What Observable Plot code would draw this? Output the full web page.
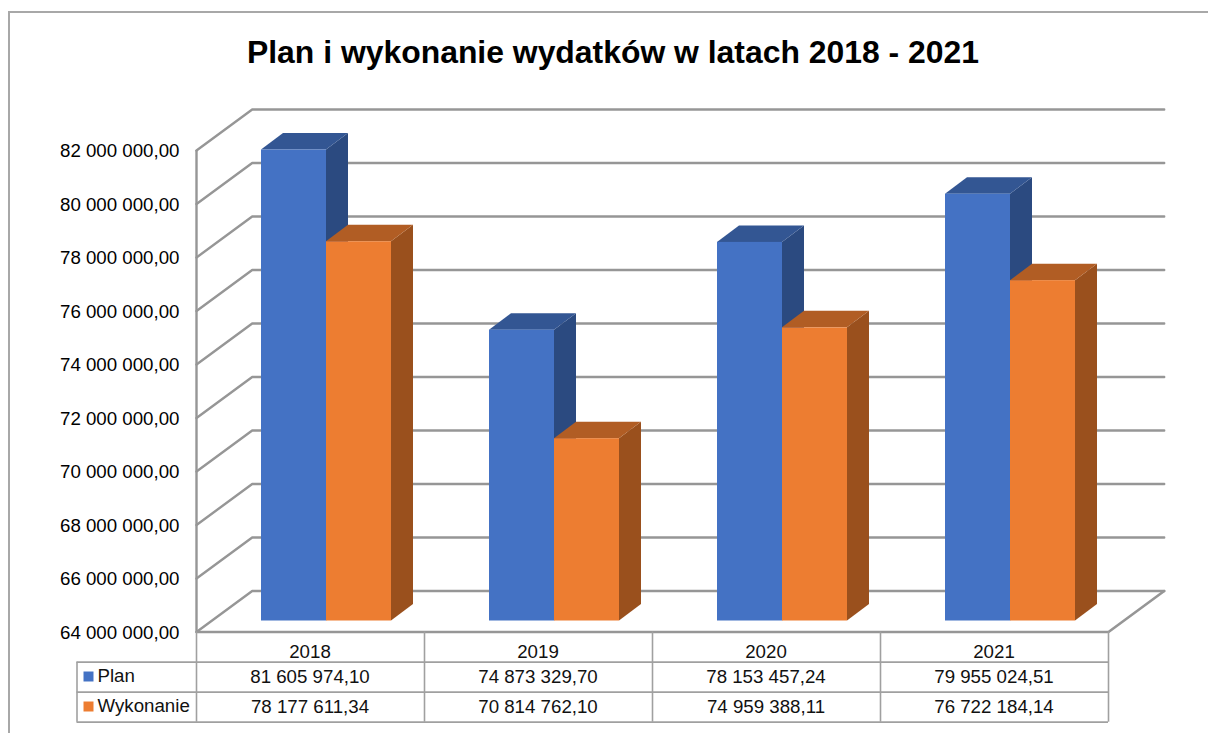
<!DOCTYPE html>
<html lang="pl">
<head>
<meta charset="utf-8">
<script src="https://cdn.jsdelivr.net/npm/d3@7"></script>
<script src="https://cdn.jsdelivr.net/npm/@observablehq/plot@0.6"></script>
<style>
html,body{margin:0;padding:0;background:#fff;overflow:hidden}
#frame{position:absolute;left:8px;top:11px;right:-4px;bottom:-4px;border:2px solid #a8a8a8;box-sizing:border-box}
#chart{position:absolute;left:0;top:0}
svg{background:transparent!important}
</style>
</head>
<body>
<div id="frame"></div>
<div id="chart"></div>
<script>
const title = "Plan i wykonanie wydatków w latach 2018 - 2021";
const categories = ["2018", "2019", "2020", "2021"];
const seriesNames = ["Plan", "Wykonanie"];
const planValues = [81605974.10, 74873329.70, 78153457.24, 79955024.51];
const wykonanieValues = [78177611.34, 70814762.10, 74959388.11, 76722184.14];
const yTicks = [64e6, 66e6, 68e6, 70e6, 72e6, 74e6, 76e6, 78e6, 80e6, 82e6];
const frontColors = ["#4472c4", "#ed7d31"];
const topColors = ["#335693", "#b15d24"];
const sideColors = ["#2b4a80", "#9a501d"];

const pxPerValue = (631.5 - 150) / 18e6;   // vertical px per unit of value
const pxPerCat = 228;                      // horizontal px per category
const vFromPx = px => px / pxPerValue;
const xFromPx = px => px / pxPerCat;

const base = yTicks[0];
const fmt = d3.formatLocale({decimal: ",", thousands: " ", grouping: [3], currency: ["", ""]}).format(",.2f");

// 3D depth of the walls and of the bars
const wallX = xFromPx(55.7), wallV = vFromPx(41);
const depthX = xFromPx(22), depthV = vFromPx(16.5);
const barW = xFromPx(65), barStart = xFromPx(65);
const plane = {dx: 0, dy: -11};

const walls = yTicks.flatMap(v => [
  {k: v, x: 0, y: v},
  {k: v, x: wallX, y: v + wallV},
  {k: v, x: 4 + wallX, y: v + wallV}
]);
const floorEdge = [
  {x: 4 + wallX, y: base + wallV},
  {x: 4, y: base},
  {x: 0, y: base}
];

const series = [planValues, wykonanieValues];
const barMarks = [];
categories.forEach((c, i) => {
  series.forEach((vals, s) => {
    const x0 = i + barStart + s * barW, x1 = x0 + barW, v = vals[i];
    barMarks.push(
      Plot.areaY([{x: x1, a: base, b: v}, {x: x1 + depthX, a: base + depthV, b: v + depthV}],
        {x: "x", y1: "a", y2: "b", fill: sideColors[s], ...plane}),
      Plot.areaX([{y: v, a: x0, b: x1}, {y: v + depthV, a: x0 + depthX, b: x1 + depthX}],
        {y: "y", x1: "a", x2: "b", fill: topColors[s], ...plane}),
      Plot.rect([{x0, x1, v}], {x1: "x0", x2: "x1", y1: base, y2: "v", fill: frontColors[s], ...plane})
    );
  });
});

// data table below the chart
const rowLine = r => base - vFromPx(30.2 + 30 * r);
const headerY = base - vFromPx(20);
const rowMid = s => base - vFromPx(45.5 + 30 * s);
const tableLeft = xFromPx(76.5 - 196);
const header = categories.map((c, i) => ({x: i + 0.5, y: headerY, t: c}));
const cells = series.flatMap((vals, s) => vals.map((v, i) => ({x: i + 0.5, y: rowMid(s), t: fmt(v)})));
const legendRows = seriesNames.map((n, s) => ({x: xFromPx(97 - 196), sx: xFromPx(88 - 196), y: rowMid(s), t: n, c: frontColors[s]}));

const fs = 18.7;
const grid = "#969696", line = "#a0a0a0";

const plot = Plot.plot({
  width: 1208, height: 733,
  marginLeft: 196, marginRight: 100, marginTop: 150, marginBottom: 101.5,
  style: {fontFamily: "'Liberation Sans', Arial, sans-serif", background: "transparent", color: "#000"},
  x: {domain: [0, 4], axis: null},
  y: {domain: [base, 82e6]},
  marks: [
    Plot.line(walls, {x: "x", y: "y", z: "k", stroke: grid, strokeWidth: 2.4}),
    Plot.line(floorEdge, {x: "x", y: "y", stroke: grid, strokeWidth: 2.6}),
    Plot.ruleX([0], {y1: base, y2: 82e6, stroke: grid, strokeWidth: 2.4}),
    ...barMarks,
    Plot.axisY({anchor: "left", ticks: yTicks, tickFormat: fmt, tickSize: 0, tickPadding: 17, fontSize: fs, label: null, dy: 1, fill: "#000"}),
    // table grid
    Plot.ruleX([0, 1, 2, 3, 4], {y1: base, y2: rowLine(2), stroke: line, strokeWidth: 1.6}),
    Plot.ruleY([0, 1, 2].map(rowLine), {x1: tableLeft, x2: 4, stroke: line, strokeWidth: 1.8}),
    Plot.ruleX([tableLeft], {y1: rowLine(0), y2: rowLine(2), stroke: line, strokeWidth: 1.6}),
    Plot.text(header, {x: "x", y: "y", text: "t", fontSize: fs, fill: "#111", dx: -0.5}),
    Plot.text(cells, {x: "x", y: "y", text: "t", fontSize: fs, fill: "#111", dx: -0.5}),
    Plot.dot(legendRows, {x: "sx", y: "y", symbol: "square", r: 5.64, fill: "c", dy: -1}),
    Plot.text(legendRows, {x: "x", y: "y", text: "t", textAnchor: "start", fontSize: fs, fill: "#111", dy: -1}),
    Plot.text([title], {frameAnchor: "top", text: d => d, fontSize: 31.9, fontWeight: "bold", fill: "#000", dx: -39.5, dy: -110})
  ]
});
document.getElementById("chart").appendChild(plot);
</script>
</body>
</html>
